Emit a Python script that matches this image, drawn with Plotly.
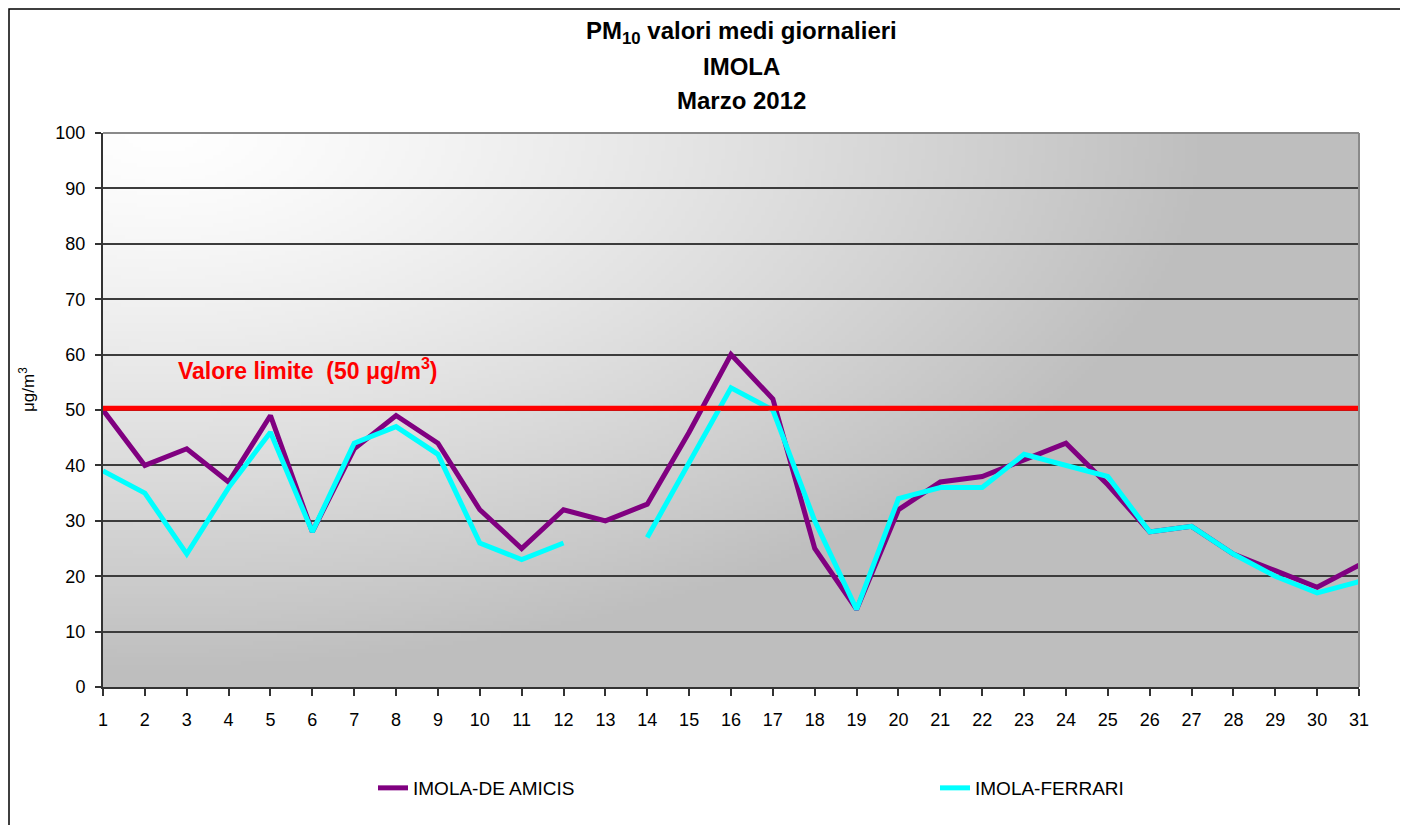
import base64
import struct
import zlib

import numpy as np
import plotly.graph_objects as go

# ---------------- data ----------------
days = list(range(1, 32))
de_amicis = [50, 40, 43, 37, 49, 28, 43, 49, 44, 32, 25, 32, 30, 33, 46, 60,
             52, 25, 14, 32, 37, 38, 41, 44, 36.5, 28, 29, 24, 21, 18, 22]
ferrari = [39, 35, 24, 36, 46, 28, 44, 47, 42, 26, 23, 26, None, 27, 40.5, 54,
           50, 30, 14, 34, 36, 36, 42, 40, 38, 28, 29, 24, 20, 17, 19]
limit_value = [50.3] * len(days)
y_ticks = list(range(0, 101, 10))

series_names = ["IMOLA-DE AMICIS", "IMOLA-FERRARI"]
title_lines = ["PM<sub>10</sub> valori medi giornalieri", "IMOLA", "Marzo 2012"]
limit_label = "Valore limite  (50 μg/m<sup>3</sup>)"
y_title = "μg/m<sup>3</sup>"

# ---------------- geometry (page pixels; page body has an 8px margin) ----------------
OFF = 8
PL, PT, PW, PH = 103, 133, 1256, 554     # plot area in page pixels


def px(xp):
    return (xp - PL) / PW


def py(yp):
    return (PT + PH - yp) / PH


# ---------------- background gradient image ----------------
W, H = 314, 139
xs = (np.arange(W) + 0.5) / W * PW
ys = (np.arange(H) + 0.5) / H * PH
X, Y = np.meshgrid(xs, ys)
t = np.sqrt(((X - 60) / 1050) ** 2 + (Y / 540) ** 2)
t = np.clip(t, 0, 1) ** 1.3
g = (255 - 65 * t).astype(np.uint8)
rgb = np.stack([g, g, g], axis=-1)
raw = b"".join(b"\x00" + rgb[j].tobytes() for j in range(H))


def chunk(tag, data):
    c = struct.pack(">I", len(data)) + tag + data
    return c + struct.pack(">I", zlib.crc32(tag + data) & 0xFFFFFFFF)


png = (b"\x89PNG\r\n\x1a\n"
       + chunk(b"IHDR", struct.pack(">IIBBBBB", W, H, 8, 2, 0, 0, 0))
       + chunk(b"IDAT", zlib.compress(raw, 9))
       + chunk(b"IEND", b""))
bg_uri = "data:image/png;base64," + base64.b64encode(png).decode()

# ---------------- figure ----------------
FONT = "Liberation Sans, Arial, sans-serif"

fig = go.Figure()
fig.add_trace(go.Scatter(x=days, y=de_amicis, name=series_names[0], mode="lines",
                         line=dict(color="#800080", width=5), legend="legend"))
fig.add_trace(go.Scatter(x=days, y=ferrari, name=series_names[1], mode="lines",
                         line=dict(color="#00FFFF", width=5), connectgaps=False,
                         legend="legend2"))
fig.add_trace(go.Scatter(x=days, y=limit_value, mode="lines", showlegend=False,
                         line=dict(color="#FF0000", width=5), hoverinfo="skip"))

fig.add_layout_image(dict(source=bg_uri, xref="paper", yref="paper", x=0, y=1,
                          sizex=1, sizey=1, sizing="stretch", layer="below"))

# plot area top/right border (grey)
fig.add_shape(type="line", xref="paper", yref="paper", x0=0, x1=1, y0=1, y1=1,
              line=dict(color="#8a8a8a", width=2))
fig.add_shape(type="line", xref="paper", yref="paper", x0=1, x1=1, y0=0, y1=1,
              line=dict(color="#8a8a8a", width=2))
# outer chart border
fig.add_shape(type="rect", xref="paper", yref="paper",
              x0=px(9), x1=px(1401), y0=py(840), y1=py(9),
              line=dict(color="#000000", width=1.5), fillcolor="rgba(0,0,0,0)")

# titles
for txt, yy in zip(title_lines, [32, 66, 100]):
    fig.add_annotation(text=f"<b>{txt}</b>", xref="paper", yref="paper",
                       x=px(741), y=py(yy),
                       xanchor="center", yanchor="middle", showarrow=False,
                       font=dict(family=FONT, size=24, color="#000000"))

fig.add_annotation(text=f"<b>{limit_label}</b>", xref="paper", yref="paper",
                   x=px(176), y=py(369),
                   xanchor="left", yanchor="middle", showarrow=False,
                   font=dict(family=FONT, size=23, color="#FF0000"))

fig.add_annotation(text=y_title, xref="paper", yref="paper",
                   x=px(27), y=py(390), textangle=-90,
                   xanchor="center", yanchor="middle", showarrow=False,
                   font=dict(family=FONT, size=17, color="#000000"))

leg_common = dict(orientation="h", yanchor="middle", xanchor="left",
                  font=dict(family=FONT, size=19, color="#000000"),
                  bgcolor="rgba(0,0,0,0)", borderwidth=0)

fig.update_layout(
    width=1408 - OFF, height=825 - OFF,
    margin=dict(l=PL - OFF, r=1408 - PL - PW, t=PT - OFF, b=825 - PT - PH, pad=0),
    paper_bgcolor="#FFFFFF",
    plot_bgcolor="rgba(0,0,0,0)",
    showlegend=True,
    legend=dict(x=px(373), y=py(788), **leg_common),
    legend2=dict(x=px(935), y=py(788), **leg_common),
    xaxis=dict(range=[1, 31], tickmode="array", tickvals=days,
               ticktext=[str(d) for d in days],
               showgrid=False, zeroline=False,
               showline=True, linecolor="#333333", linewidth=2,
               ticks="outside", ticklen=7, tickwidth=1.5, tickcolor="#333333",
               ticklabelstandoff=8,
               tickfont=dict(family=FONT, size=18, color="#000000")),
    yaxis=dict(range=[0, 100], tickmode="array", tickvals=y_ticks,
               showgrid=True, gridcolor="#3c3c3c", gridwidth=1.5,
               zeroline=False,
               showline=True, linecolor="#333333", linewidth=2,
               ticks="outside", ticklen=6, tickwidth=1.5, tickcolor="#333333",
               ticklabelstandoff=6,
               tickfont=dict(family=FONT, size=18, color="#000000")),
)

fig.write_html("out.html")
